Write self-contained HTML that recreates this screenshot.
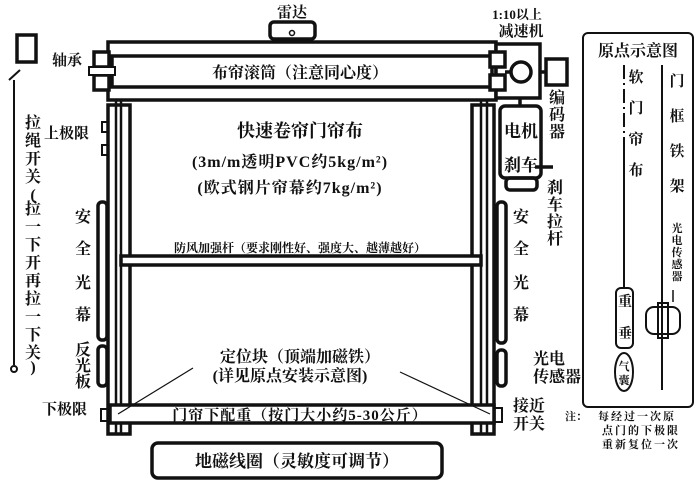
<!DOCTYPE html>
<html><head><meta charset="utf-8"><style>
html,body{margin:0;padding:0;background:#fff}
svg{display:block}
text{font-family:"Liberation Serif","Noto Serif CJK SC","Noto Sans CJK SC",serif;font-weight:bold;fill:#111}
</style></head><body>
<svg width="700" height="487" viewBox="0 0 700 487" xmlns="http://www.w3.org/2000/svg">
<g fill="none" stroke="#111" stroke-width="3.5">
<rect x="270" y="22" width="45" height="17" rx="4"/>
<circle cx="292" cy="33" r="2.5" stroke-width="1.5"/>
<rect x="108" y="42" width="388" height="58"/>
<rect x="112" y="56" width="380" height="31" fill="#fff"/>
<rect x="94" y="52" width="15" height="15" fill="#fff"/>
<rect x="94" y="75" width="15" height="15" fill="#fff"/>
<rect x="89" y="67" width="26" height="8" fill="#fff" stroke-width="2"/>
<rect x="496" y="44" width="44" height="54" fill="#fff"/>
<rect x="490" y="52" width="15" height="15" fill="#fff"/>
<rect x="490" y="75" width="15" height="15" fill="#fff"/>
<circle cx="521" cy="72" r="10" fill="#fff"/>
<line x1="505" y1="72" x2="511" y2="72"/>
<rect x="546" y="59" width="21" height="26"/>
<line x1="540" y1="72" x2="546" y2="72"/>
<line x1="520" y1="98" x2="520" y2="106"/>
<rect x="500" y="106" width="41" height="72" rx="5"/>
<rect x="506" y="178" width="31" height="12" rx="4"/>
<line x1="535" y1="167" x2="553" y2="167"/>
<rect x="108" y="105" width="22" height="329"/>
<line x1="116" y1="100" x2="116" y2="434" stroke-width="2.5"/>
<line x1="121" y1="100" x2="121" y2="434" stroke-width="2.5"/>
<rect x="472" y="105" width="22" height="329"/>
<line x1="481" y1="100" x2="481" y2="434" stroke-width="2.5"/>
<line x1="487" y1="100" x2="487" y2="434" stroke-width="2.5"/>
<rect x="102" y="122" width="6" height="10" stroke-width="2"/>
<rect x="102" y="145" width="6" height="10" stroke-width="2"/>
<rect x="101" y="409" width="7" height="12" stroke-width="2"/>
<rect x="494" y="408" width="8" height="14" stroke-width="2"/>
<rect x="121" y="256" width="360" height="9" fill="#fff"/>
<rect x="110" y="405" width="384" height="18" fill="#fff"/>
<rect x="98" y="202" width="9" height="138" rx="4"/>
<rect x="98" y="346" width="9" height="40" rx="4"/>
<rect x="497" y="202" width="9" height="141" rx="4"/>
<rect x="497" y="350" width="9" height="36" rx="4"/>
<rect x="152" y="443" width="290" height="35" rx="6"/>
<rect x="17" y="35" width="19" height="27"/>
<line x1="9" y1="80" x2="20" y2="70" stroke-width="2"/>
<line x1="14" y1="80" x2="14" y2="365" stroke-width="2"/>
<circle cx="14" cy="369" r="3" stroke-width="2"/>
<rect x="583" y="33" width="110" height="374" rx="5" stroke-width="2"/>
<line x1="624" y1="65" x2="624" y2="288" stroke-width="2" stroke-dasharray="14,4,2,4"/>
<line x1="624" y1="150" x2="624" y2="288" stroke-width="2"/>
<line x1="662" y1="65" x2="662" y2="390" stroke-width="2"/>
<rect x="616" y="288" width="17" height="60" rx="5" stroke-width="2"/>
<ellipse cx="624" cy="372" rx="9" ry="19" stroke-width="2"/>
<rect x="646" y="307" width="34" height="27" rx="8" stroke-width="2"/>
<rect x="658" y="303" width="10" height="35" stroke-width="2"/>
<line x1="673" y1="290" x2="673" y2="302" stroke-width="1.5"/>
</g>
<g stroke="#111" stroke-width="1.2">
<line x1="118" y1="414" x2="193" y2="368"/>
<line x1="400" y1="372" x2="490" y2="414"/>
</g>
<text x="292" y="17" font-size="15" text-anchor="middle">雷达</text>
<text x="517" y="19" font-size="13" text-anchor="middle">1:10以上</text>
<text x="521" y="36" font-size="15" text-anchor="middle">减速机</text>
<text x="300" y="78" font-size="16" text-anchor="middle">布帘滚筒（注意同心度）</text>
<text x="52" y="65" font-size="15">轴承</text>
<text x="44" y="138" font-size="15">上极限</text>
<text x="300" y="137" font-size="18" text-anchor="middle">快速卷帘门帘布</text>
<text x="290" y="167" font-size="16" text-anchor="middle" letter-spacing="1">(3m/m透明PVC约5kg/m²)</text>
<text x="290" y="193" font-size="16" text-anchor="middle" letter-spacing="1">(欧式钢片帘幕约7kg/m²)</text>
<text x="300" y="252" font-size="12" text-anchor="middle">防风加强杆（要求刚性好、强度大、越薄越好）</text>
<text x="521" y="137" font-size="17" text-anchor="middle">电机</text>
<text x="521" y="171" font-size="17" text-anchor="middle">刹车</text>
<g font-size="16" text-anchor="middle">
<text x="557" y="103">编</text><text x="557" y="120">码</text><text x="557" y="137">器</text>
<text x="555" y="193">刹</text><text x="555" y="210">车</text><text x="555" y="227">拉</text><text x="555" y="244">杆</text>
<text x="83" y="222">安</text><text x="83" y="254">全</text><text x="83" y="288">光</text><text x="83" y="320">幕</text>
<text x="83" y="355">反</text><text x="83" y="371">光</text><text x="83" y="387">板</text>
<text x="521" y="222">安</text><text x="521" y="254">全</text><text x="521" y="288">光</text><text x="521" y="320">幕</text>
<text x="33" y="128">拉</text><text x="33" y="146">绳</text><text x="33" y="164">开</text><text x="33" y="182">关</text>
<text x="33" y="200">(</text><text x="33" y="214">拉</text><text x="33" y="232">一</text><text x="33" y="250">下</text>
<text x="33" y="268">开</text><text x="33" y="286">再</text><text x="33" y="304">拉</text><text x="33" y="322">一</text>
<text x="33" y="340">下</text><text x="33" y="358">关</text><text x="33" y="372">)</text>
</g>
<text x="533" y="364" font-size="16">光电</text>
<text x="533" y="382" font-size="16">传感器</text>
<text x="513" y="411" font-size="16">接近</text>
<text x="513" y="429" font-size="16">开关</text>
<text x="42" y="414" font-size="15">下极限</text>
<text x="300" y="362" font-size="16" text-anchor="middle">定位块（顶端加磁铁）</text>
<text x="290" y="381" font-size="16" text-anchor="middle">(详见原点安装示意图)</text>
<text x="300" y="420" font-size="15" text-anchor="middle" letter-spacing="1">门帘下配重（按门大小约5-30公斤）</text>
<text x="297" y="467" font-size="17" text-anchor="middle">地磁线圈（灵敏度可调节）</text>
<text x="638" y="56" font-size="16" text-anchor="middle">原点示意图</text>
<g font-size="15" text-anchor="middle">
<text x="636" y="82">软</text><text x="636" y="113">门</text><text x="636" y="144">帘</text><text x="636" y="175">布</text>
<text x="677" y="86">门</text><text x="677" y="121">框</text><text x="677" y="156">铁</text><text x="677" y="191">架</text>
<text x="625" y="306" font-size="14">重</text><text x="625" y="338" font-size="14">垂</text>
</g>
<g font-size="11" text-anchor="middle">
<text x="677" y="232">光</text><text x="677" y="244">电</text><text x="677" y="256">传</text><text x="677" y="268">感</text><text x="677" y="280">器</text>
<text x="624" y="370">气</text><text x="624" y="384">囊</text>
</g>
<text x="565" y="420" font-size="11">注：</text>
<text x="598" y="420" font-size="11" letter-spacing="2">每经过一次原</text>
<text x="602" y="434" font-size="11" letter-spacing="2">点门的下极限</text>
<text x="602" y="448" font-size="11" letter-spacing="2">重新复位一次</text>
</svg>
</body></html>
